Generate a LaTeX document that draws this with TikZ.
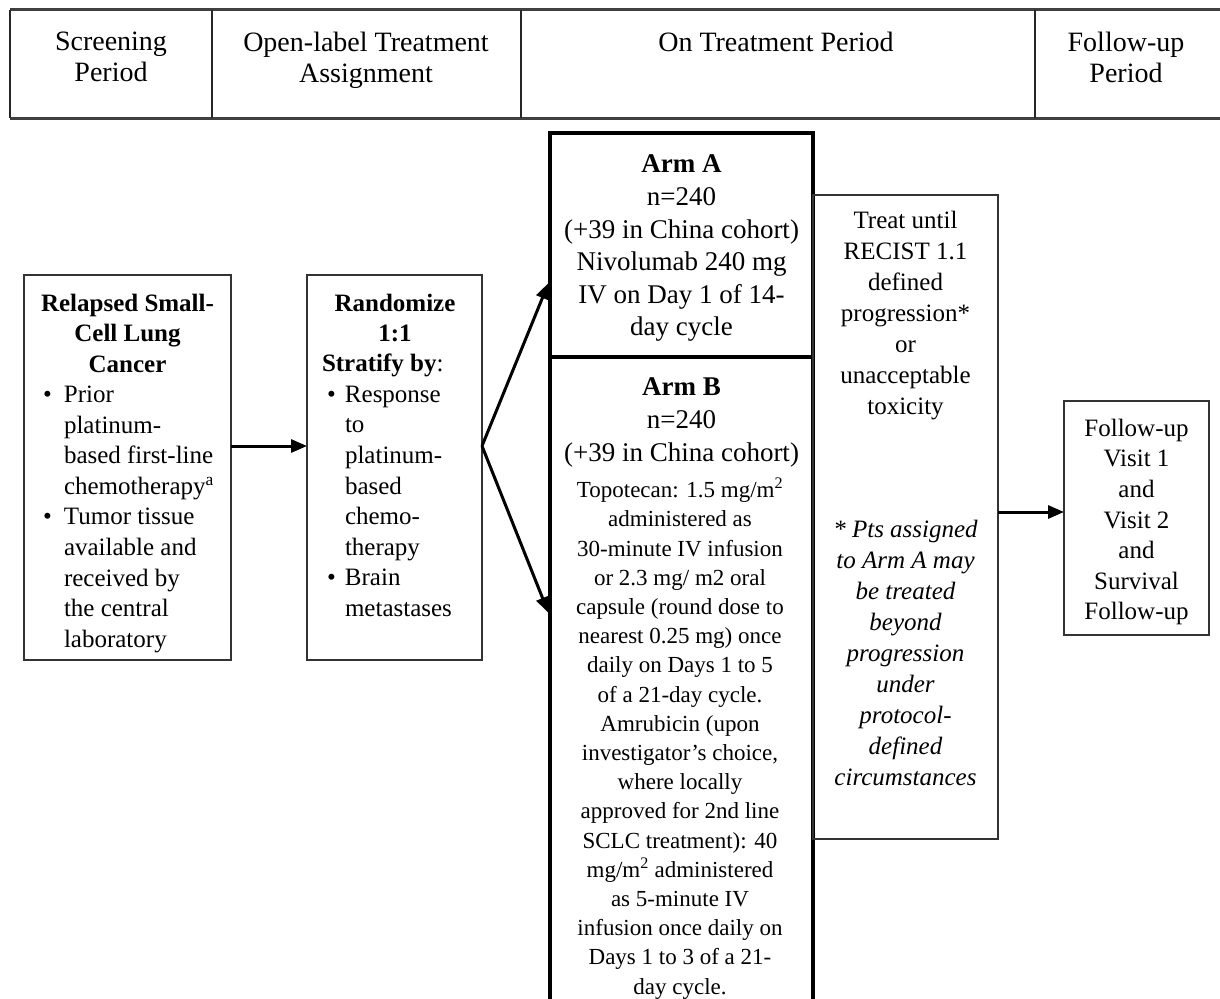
\documentclass[tikz,border=0pt]{standalone}
\usepackage{fontspec}
\setmainfont{Liberation Serif}
\usetikzlibrary{arrows.meta}
\newcommand\bl{\makebox[21pt][l]{\textbullet}}
\newcommand\il{\hspace*{21pt}}
\newcommand\bb{\hspace*{5pt}\makebox[18pt][l]{\textbullet}}
\newcommand\ib{\hspace*{23pt}}
\begin{document}
\begin{tikzpicture}[x=1pt,y=-1pt,
  cell/.style={inner sep=0, outer sep=0, anchor=north west, minimum height=108},
  hline/.style={line width=3pt, draw=black!75},
  vline/.style={line width=2pt, draw=black!85},
  box/.style={draw=black!80, line width=2pt, inner sep=0, outer sep=0, anchor=north west},
  armbox/.style={draw=black, line width=3.5pt, inner sep=0, outer sep=0, anchor=north west},
  txt/.style={inner sep=0, outer sep=0, anchor=north, align=center},
  lst/.style={inner sep=0, outer sep=0, anchor=north west, align=left},
  fh/.style={font=\fontsize{28}{31}\selectfont},
  fm/.style={font=\fontsize{25}{30.6}\selectfont},
  fmb/.style={font=\fontsize{25}{30.6}\selectfont\bfseries},
  fa/.style={font=\fontsize{27}{32.6}\selectfont},
  fs/.style={font=\fontsize{23}{29.2}\selectfont},
  ft/.style={font=\fontsize{25}{31}\selectfont},
  fti/.style={font=\fontsize{25}{31}\selectfont\itshape},
  arr/.style={line width=3pt, draw=black, -{Triangle[length=16pt,width=13pt]}}
]
\useasboundingbox (0,0) rectangle (1220,998);
\clip (0,0) rectangle (1220,998);

% header
\node[cell, minimum width=202] (h1) at (10,10) {};
\node[cell, minimum width=309] (h2) at (212,10) {};
\node[cell, minimum width=514] (h3) at (521,10) {};
\node[cell, minimum width=200] (h4) at (1035,10) {};
\draw[hline] (h1.north west) -- (h4.north east);
\draw[hline] (h1.south west) -- (h4.south east);
\draw[vline] (h1.north west) -- (h1.south west);
\draw[vline] (h2.north west) -- (h2.south west);
\draw[vline] (h3.north west) -- (h3.south west);
\draw[vline] (h4.north west) -- (h4.south west);
\node[txt, fh] (t1) at (111,32) {Screening\\Period};
\node[txt, fh] (t2) at (366,32) {Open-label Treatment\\Assignment};
\node[txt, fh] (t3) at (776,32) {On Treatment Period};
\node[txt, fh] (t4) at (1126,32) {Follow-up\\Period};

% eligibility
\node[box, minimum width=207, minimum height=385] (elig) at (24,275) {};
\node[txt, fmb] (eligT) at (127.5,294) {Relapsed Small-\\Cell Lung\\Cancer};
\node[lst, fm] (eligL) at (43,386) {\bl Prior\\\il platinum-\\\il based first-line\\\il chemotherapy\textsuperscript{a}\\\bl Tumor tissue\\\il available and\\\il received by\\\il the central\\\il laboratory};

% randomize
\node[box, minimum width=175, minimum height=385] (rand) at (307,275) {};
\node[txt, fmb] (randT) at (395,294) {Randomize\\1:1};
\node[lst, fm] (randL) at (322,354) {\textbf{Stratify by}:\\\bb Response\\\ib to\\\ib platinum-\\\ib based\\\ib chemo-\\\ib therapy\\\bb Brain\\\ib metastases};

% arms
\node[armbox, minimum width=263, minimum height=224] (armA) at (550,133) {};
\node[armbox, minimum width=263, minimum height=700] (armB) at (550,357) {};
\node[txt, fa] (armAT) at (681.5,155) {\textbf{Arm A}\\n=240\\(+39 in China cohort)\\Nivolumab 240 mg\\IV on Day 1 of 14-\\day cycle};
\node[txt, fa] (armBT) at (681.5,378) {\textbf{Arm B}\\n=240\\(+39 in China cohort)};
\node[txt, fs] (armBD) at (680,478) {Topotecan: 1.5 mg/m\textsuperscript{2}\\administered as\\30-minute IV infusion\\or 2.3 mg/ m2 oral\\capsule (round dose to\\nearest 0.25 mg) once\\daily on Days 1 to 5\\of a 21-day cycle.\\Amrubicin (upon\\investigator’s choice,\\where locally\\approved for 2nd line\\SCLC treatment): 40\\mg/m\textsuperscript{2} administered\\as 5-minute IV\\infusion once daily on\\Days 1 to 3 of a 21-\\day cycle.};

% treat box
\node[box, minimum width=185, minimum height=644] (treat) at (813,195) {};
\node[txt, ft] (treatT) at (905.5,211) {Treat until\\RECIST 1.1\\defined\\progression*\\or\\unacceptable\\toxicity};
\node[txt, fti] (treatN) at (905.5,520) {* Pts assigned\\to Arm A may\\be treated\\beyond\\progression\\under\\protocol-\\defined\\circumstances};

% follow-up
\node[box, minimum width=145, minimum height=234] (fu) at (1064,401) {};
\node[txt, fm] (fuT) at (1136.5,419) {Follow-up\\Visit 1\\and\\Visit 2\\and\\Survival\\Follow-up};

% connectors
\draw[arr] ([yshift=21.5pt]elig.east) -- ([yshift=21.5pt]rand.west);
\draw[arr] ([yshift=21.5pt]rand.east) -- ([yshift=-38pt,xshift=-1.5pt]armA.west);
\draw[arr] ([yshift=21.5pt]rand.east) -- ([yshift=94pt,xshift=-1.5pt]armB.west);
\draw[arr] ([yshift=5pt]treat.east) -- ([yshift=6pt]fu.west);
\end{tikzpicture}
\end{document}
